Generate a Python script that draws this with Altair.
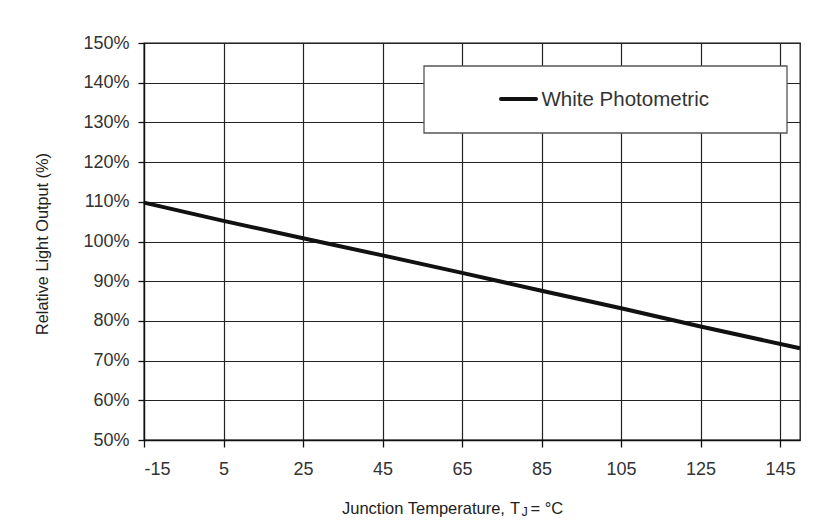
import altair as alt
import pandas as pd

# ---- data ----
temps = [-15, 5, 25, 45, 65, 85, 105, 125, 150]
light = [109.8, 105.2, 100.8, 96.5, 92.1, 87.6, 83.2, 78.6, 73.1]
series_name = ["White Photometric"]
x_ticks = [-15, 5, 25, 45, 65, 85, 105, 125, 145]
y_ticks = [50, 60, 70, 80, 90, 100, 110, 120, 130, 140, 150]
y_title = "Relative Light Output (%)"
x_title_a = ["Junction Temperature,"]
x_title_t = ["T"]
x_title_sub = ["J"]
x_title_end = ["= °C"]

W, H = 656, 397
FONT = "Liberation Sans"

df = pd.DataFrame({"temp": temps, "light": light})

line = alt.Chart(df).mark_line(color="#111111", strokeWidth=4).encode(
    x=alt.X(
        "temp:Q",
        scale=alt.Scale(domain=[-15, 150], nice=False, zero=False),
        axis=alt.Axis(values=x_ticks, title=None, grid=True, tickSize=7,
                      labelPadding=13, labelFontSize=18,
                      labelExpr="'' + datum.value"),
    ),
    y=alt.Y(
        "light:Q",
        scale=alt.Scale(domain=[50, 150], nice=False, zero=False),
        axis=alt.Axis(values=y_ticks, labelExpr="datum.value + '%'",
                      title=y_title, grid=True, tickSize=6, labelPadding=9,
                      labelFontSize=18, titleFontSize=16.3, titleFont=FONT,
                      titleFontWeight="normal", titleColor="#222222",
                      titleAngle=270, titleX=-97, titleY=H / 2 + 2,
                      titleBaseline="alphabetic", titleAlign="center"),
    ),
)

legend_box = alt.Chart(pd.DataFrame({"label": series_name})).mark_rect(
    fill="white", stroke="#555555", strokeWidth=1.3
).encode(x=alt.value(280), x2=alt.value(643), y=alt.value(23), y2=alt.value(90))

legend_sym = alt.Chart(pd.DataFrame({"label": series_name})).mark_rule(
    color="#111111", strokeWidth=4, strokeCap="round"
).encode(x=alt.value(357), x2=alt.value(392), y=alt.value(56))

legend_txt = alt.Chart(pd.DataFrame({"label": series_name})).mark_text(
    align="left", baseline="alphabetic", fontSize=20.5, font=FONT, color="#333333"
).encode(x=alt.value(397.5), y=alt.value(63), text="label:N")


def title_piece(txt, x, y, size):
    return alt.Chart(pd.DataFrame({"t": txt})).mark_text(
        align="left", baseline="alphabetic", fontSize=size, font=FONT, color="#222222"
    ).encode(x=alt.value(x), y=alt.value(y), text="t:N")


xt1 = title_piece(x_title_a, 198, 471, 16.5)
xt2 = title_piece(x_title_t, 366, 471, 16.5)
xt3 = title_piece(x_title_sub, 377.5, 473, 12.5)
xt4 = title_piece(x_title_end, 386.5, 471, 16.5)

chart = alt.layer(line, legend_box, legend_sym, legend_txt, xt1, xt2, xt3, xt4).properties(
    width=W, height=H,
    autosize=alt.AutoSizeParams(type="none"),
    padding={"left": 136, "top": 35, "right": 17, "bottom": 80},
    background="white",
).configure_view(
    stroke="#111111", strokeWidth=1.3
).configure_axis(
    domainColor="#111111", domainWidth=1.3,
    tickColor="#111111", tickWidth=1.3,
    gridColor="#222222", gridWidth=1.2, gridOpacity=1,
    labelFont=FONT, labelColor="#333333",
)

chart.save("out.html", embed_options={"renderer": "svg", "actions": False})
